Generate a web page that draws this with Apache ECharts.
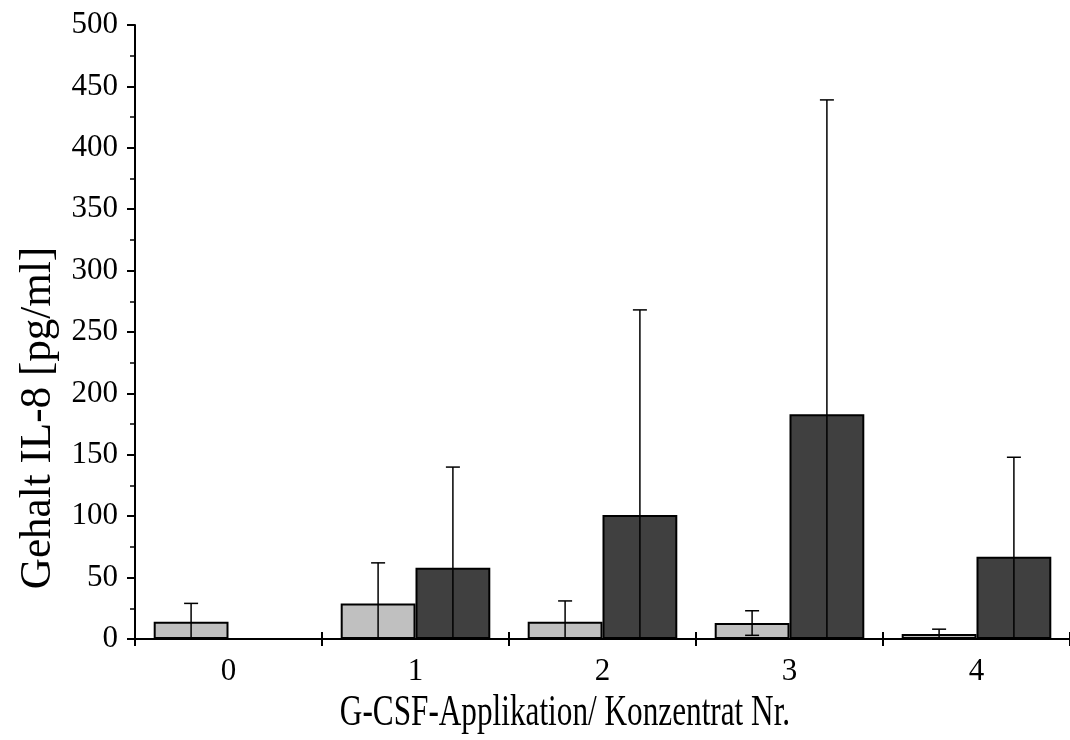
<!DOCTYPE html>
<html>
<head>
<meta charset="utf-8">
<script src="https://cdn.jsdelivr.net/npm/echarts@6/dist/echarts.min.js"></script>
<style>html,body{margin:0;padding:0;background:#fff}#c{width:1070px;height:740px}</style>
</head>
<body>
<div id="c"></div>
<script>
const categories = ['0', '1', '2', '3', '4'];
const lightMean = [14, 29, 14, 13, 4];
const lightSD = [15, 33, 17, 10, 4];
const darkMean = [null, 58, 101, 183, 67];
const darkSD = [null, 82, 167, 256, 81];
const yTicks = { min: 0, max: 500, interval: 50 };
const xTitle = 'G-CSF-Applikation/ Konzentrat Nr.';
const yTitle = 'Gehalt IL-8 [pg/ml]';

const font = '"Liberation Serif", "Times New Roman", serif';
const chart = echarts.init(document.getElementById('c'));

function errData(mean, sd) {
  return mean.map((m, i) => m == null ? [i, null, null, null] : [i, Math.max(0, m - sd[i]), m + sd[i], m - sd[i]]);
}
function errSeries(mean, sd, sign) {
  return {
    type: 'custom',
    z: 5,
    data: errData(mean, sd),
    renderItem: function (params, api) {
      const lo = api.value(1), hi = api.value(2), raw = api.value(3);
      if (hi == null || isNaN(hi)) return;
      const w = api.size([1, 0])[0];
      const c0 = api.coord([api.value(0), lo]);
      const c1 = api.coord([api.value(0), hi]);
      const x = c0[0] + sign * 0.2 * w;
      const cap = 7;
      const st = { stroke: '#000', lineWidth: 1.5 };
      const ch = [
        { type: 'line', shape: { x1: x, y1: c0[1], x2: x, y2: c1[1] }, style: st },
        { type: 'line', shape: { x1: x - cap, y1: c1[1], x2: x + cap, y2: c1[1] }, style: st }
      ];
      if (raw > 0) ch.push({ type: 'line', shape: { x1: x - cap, y1: c0[1], x2: x + cap, y2: c0[1] }, style: st });
      return { type: 'group', children: ch };
    }
  };
}

chart.setOption({
  animation: false,
  backgroundColor: '#fff',
  grid: { left: 135, right: 0, top: 25, bottom: 101, containLabel: false },
  xAxis: [{
    type: 'category',
    data: categories,
    boundaryGap: true,
    axisLine: { lineStyle: { color: '#000', width: 2 } },
    axisTick: { show: true, length: 7, lineStyle: { color: '#000', width: 2 } },
    axisLabel: { color: '#000', fontFamily: font, fontSize: 31, margin: 17 }
  }, {
    type: 'category',
    data: categories,
    position: 'bottom',
    boundaryGap: true,
    axisLine: { show: false },
    axisTick: { show: true, inside: true, length: 7, lineStyle: { color: '#000', width: 2 } },
    axisLabel: { show: false }
  }],
  yAxis: {
    type: 'value',
    min: yTicks.min,
    max: yTicks.max,
    interval: yTicks.interval,
    splitLine: { show: false },
    axisLine: { show: true, lineStyle: { color: '#000', width: 2 } },
    axisTick: { show: true, length: 8, lineStyle: { color: '#000', width: 2 } },
    minorTick: { show: true, splitNumber: 2, length: 5, lineStyle: { color: '#000', width: 1.5 } },
    axisLabel: { color: '#000', fontFamily: font, fontSize: 31, margin: 17 }
  },
  graphic: [{
    type: 'text',
    x: 38, y: 418,
    rotation: Math.PI / 2,
    scaleX: 0.98,
    style: {
      text: yTitle,
      font: '44px "Liberation Serif", serif',
      fill: '#000',
      align: 'center',
      verticalAlign: 'middle'
    }
  }, {
    type: 'text',
    x: 565, y: 713,
    scaleX: 0.71,
    style: {
      text: xTitle,
      font: '44px "Liberation Serif", serif',
      fill: '#000',
      align: 'center',
      verticalAlign: 'middle'
    }
  }],
  series: [{
    type: 'bar',
    data: lightMean,
    barWidth: '40%',
    barGap: '0%',
    itemStyle: { color: '#c0c0c0', borderColor: '#000', borderWidth: 2 }
  }, {
    type: 'bar',
    data: darkMean.map(v => v == null ? '-' : v),
    barWidth: '40%',
    barGap: '0%',
    itemStyle: { color: '#404040', borderColor: '#000', borderWidth: 2 }
  },
  errSeries(lightMean, lightSD, -1),
  errSeries(darkMean, darkSD, 1)]
});
</script>
</body>
</html>
